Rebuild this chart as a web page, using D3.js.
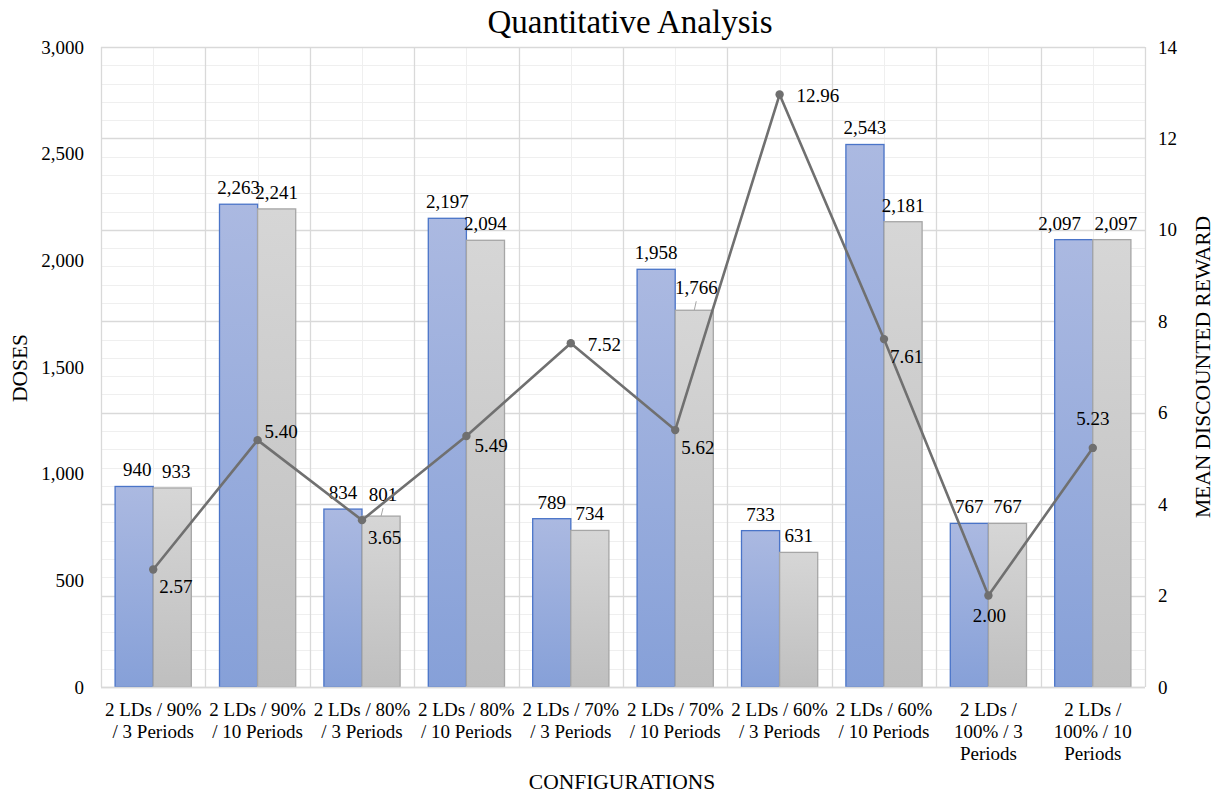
<!DOCTYPE html>
<html>
<head>
<meta charset="utf-8">
<script src="https://cdn.jsdelivr.net/npm/d3@7"></script>
<style>
  html, body { margin: 0; padding: 0; background: #fff; }
  svg text { font-family: "Liberation Serif", "Times New Roman", serif; fill: #000; }
</style>
</head>
<body>
<svg id="chart" width="1217" height="793"></svg>
<script>
// Configurations on the x axis
const categories = [
  "2 LDs / 90% / 3 Periods",
  "2 LDs / 90% / 10 Periods",
  "2 LDs / 80% / 3 Periods",
  "2 LDs / 80% / 10 Periods",
  "2 LDs / 70% / 3 Periods",
  "2 LDs / 70% / 10 Periods",
  "2 LDs / 60% / 3 Periods",
  "2 LDs / 60% / 10 Periods",
  "2 LDs / 100% / 3 Periods",
  "2 LDs / 100% / 10 Periods"
];
// Doses, two bar series
const dosesA = [940, 2263, 834, 2197, 789, 1958, 733, 2543, 767, 2097];
const dosesB = [933, 2241, 801, 2094, 734, 1766, 631, 2181, 767, 2097];
// Mean discounted reward (secondary axis line)
const reward = [2.57, 5.40, 3.65, 5.49, 7.52, 5.62, 12.96, 7.61, 2.00, 5.23];
// Axis ticks
const doseTicks = [0, 500, 1000, 1500, 2000, 2500, 3000];
const rewardTicks = [0, 2, 4, 6, 8, 10, 12, 14];

// Where each reward label sits relative to its marker
const rewardLabelSide = ["belowRight", "rightUp", "belowRight", "rightDown", "right",
                         "belowRight", "right", "belowRight", "below", "above"];

const W = 1217, H = 793;
const plot = { left: 101, right: 1145, top: 47, bottom: 687 };
const svg = d3.select("#chart");

svg.append("rect").attr("width", W).attr("height", H).attr("fill", "#fff");

const defs = svg.append("defs");
const gA = defs.append("linearGradient").attr("id", "gradA").attr("x1", 0).attr("y1", 0).attr("x2", 0).attr("y2", 1);
gA.append("stop").attr("offset", "0%").attr("stop-color", "#abb9e1");
gA.append("stop").attr("offset", "100%").attr("stop-color", "#86a0d8");
const gB = defs.append("linearGradient").attr("id", "gradB").attr("x1", 0).attr("y1", 0).attr("x2", 0).attr("y2", 1);
gB.append("stop").attr("offset", "0%").attr("stop-color", "#d6d6d6");
gB.append("stop").attr("offset", "100%").attr("stop-color", "#bfbfbf");

const x = d3.scaleBand().domain(categories).range([plot.left, plot.right]);
const y = d3.scaleLinear().domain([0, 3000]).range([plot.bottom, plot.top]);
const y2 = d3.scaleLinear().domain([0, 14]).range([plot.bottom, plot.top]);

const barW = x.bandwidth() * 0.365;

// Gridlines: horizontal ones follow the secondary axis (major every 2, minor every 0.4)
const grid = svg.append("g");
const minorH = d3.range(0, 14.0001, 0.4).filter(v => Math.abs(v / 2 - Math.round(v / 2)) > 1e-6);
grid.selectAll(".hmin").data(minorH).join("line")
  .attr("x1", plot.left).attr("x2", plot.right)
  .attr("y1", d => Math.round(y2(d)) + 0.5).attr("y2", d => Math.round(y2(d)) + 0.5)
  .attr("stroke", "#efefef").attr("stroke-width", 1);
grid.selectAll(".vmin").data(categories).join("line")
  .attr("x1", d => Math.round(x(d) + x.bandwidth() / 2) + 0.5)
  .attr("x2", d => Math.round(x(d) + x.bandwidth() / 2) + 0.5)
  .attr("y1", plot.top).attr("y2", plot.bottom)
  .attr("stroke", "#efefef").attr("stroke-width", 1);
grid.selectAll(".hmaj").data(rewardTicks).join("line")
  .attr("x1", plot.left).attr("x2", plot.right)
  .attr("y1", d => Math.round(y2(d)) + 0.5).attr("y2", d => Math.round(y2(d)) + 0.5)
  .attr("stroke", "#d9d9d9").attr("stroke-width", 1.3);
const bounds = categories.map(c => x(c)).concat([plot.right]);
grid.selectAll(".vmaj").data(bounds).join("line")
  .attr("x1", d => Math.round(d) + 0.5).attr("x2", d => Math.round(d) + 0.5)
  .attr("y1", plot.top).attr("y2", plot.bottom)
  .attr("stroke", "#d9d9d9").attr("stroke-width", 1.3);

// Bars
const bars = svg.append("g");
bars.selectAll(".barA").data(dosesA).join("rect")
  .attr("x", (d, i) => x(categories[i]) + x.bandwidth() / 2 - barW)
  .attr("y", d => y(d))
  .attr("width", barW)
  .attr("height", d => plot.bottom - y(d))
  .attr("fill", "url(#gradA)")
  .attr("stroke", "#4a74c8").attr("stroke-width", 1.3);
bars.selectAll(".barB").data(dosesB).join("rect")
  .attr("x", (d, i) => x(categories[i]) + x.bandwidth() / 2)
  .attr("y", d => y(d))
  .attr("width", barW)
  .attr("height", d => plot.bottom - y(d))
  .attr("fill", "url(#gradB)")
  .attr("stroke", "#a6a6a6").attr("stroke-width", 1.3);

// Axis baseline
svg.append("line").attr("x1", plot.left).attr("x2", plot.right)
  .attr("y1", plot.bottom + 0.5).attr("y2", plot.bottom + 0.5)
  .attr("stroke", "#d9d9d9").attr("stroke-width", 1.5);

const fmt = d3.format(",");
const fs = 19;

// Bar value labels; a few are nudged sideways or lifted (with a short leader) to stay clear
const shiftA = { 0: 3, 9: -14 };
const shiftB = { 0: 4, 9: 4 };
const liftB = { 2: 5, 5: 6 };
const lblA = svg.append("g");
lblA.selectAll("text").data(dosesA).join("text")
  .attr("x", (d, i) => x(categories[i]) + x.bandwidth() / 2 - barW / 2 + (shiftA[i] || 0))
  .attr("y", d => y(d) - 10)
  .attr("text-anchor", "middle").attr("font-size", fs)
  .text(d => fmt(d));
const lblB = svg.append("g");
lblB.selectAll("text").data(dosesB).join("text")
  .attr("x", (d, i) => x(categories[i]) + x.bandwidth() / 2 + barW / 2 + (shiftB[i] || 0) + (liftB[i] ? 2 : 0))
  .attr("y", (d, i) => y(d) - 10 - (liftB[i] || 0))
  .attr("text-anchor", "middle").attr("font-size", fs)
  .text(d => fmt(d));
lblB.selectAll("line").data(dosesB.map((d, i) => [d, i]).filter(p => liftB[p[1]])).join("line")
  .attr("x1", p => x(categories[p[1]]) + x.bandwidth() / 2 + barW / 2 + 2)
  .attr("x2", p => x(categories[p[1]]) + x.bandwidth() / 2 + barW / 2)
  .attr("y1", p => y(p[0]) - liftB[p[1]] - 3)
  .attr("y2", p => y(p[0]))
  .attr("stroke", "#a6a6a6").attr("stroke-width", 1);

// Reward line on the secondary axis
const cx = i => x(categories[i]) + x.bandwidth() / 2;
const line = d3.line().x((d, i) => cx(i)).y(d => y2(d));
svg.append("path").datum(reward)
  .attr("d", line)
  .attr("fill", "none").attr("stroke", "#707070").attr("stroke-width", 2.6)
  .attr("stroke-linejoin", "round");
svg.append("g").selectAll("circle").data(reward).join("circle")
  .attr("cx", (d, i) => cx(i)).attr("cy", d => y2(d)).attr("r", 4.2)
  .attr("fill", "#6f6f6f");

const sideOffset = {
  right:      { dx: 17, dy: 1,  anchor: "start" },
  rightUp:    { dx: 7, dy: -9,  anchor: "start" },
  rightDown:  { dx: 8, dy: 9,   anchor: "start" },
  belowRight: { dx: 6, dy: 17,  anchor: "start" },
  below:      { dx: 1, dy: 20,  anchor: "middle" },
  above:      { dx: 0, dy: -30, anchor: "middle" }
};
svg.append("g").selectAll("text").data(reward).join("text")
  .attr("x", (d, i) => cx(i) + sideOffset[rewardLabelSide[i]].dx)
  .attr("y", (d, i) => y2(d) + sideOffset[rewardLabelSide[i]].dy)
  .attr("dy", "0.35em")
  .attr("text-anchor", (d, i) => sideOffset[rewardLabelSide[i]].anchor)
  .attr("font-size", fs)
  .text(d => d.toFixed(2));

// Left axis
const axL = svg.append("g").attr("transform", `translate(${plot.left},0)`)
  .call(d3.axisLeft(y).tickValues(doseTicks).tickFormat(fmt).tickSize(0).tickPadding(17));
axL.select(".domain").remove();
axL.selectAll("text").attr("font-size", fs).attr("font-family", "Liberation Serif, serif").attr("fill", "#000");

// Right axis
const axR = svg.append("g").attr("transform", `translate(${plot.right},0)`)
  .call(d3.axisRight(y2).tickValues(rewardTicks).tickFormat(d3.format("d")).tickSize(0).tickPadding(13));
axR.select(".domain").remove();
axR.selectAll("text").attr("font-size", fs).attr("font-family", "Liberation Serif, serif").attr("fill", "#000");

// Category labels, word-wrapped to the band width
const axB = svg.append("g");
categories.forEach(c => {
  const t = axB.append("text")
    .attr("x", x(c) + x.bandwidth() / 2)
    .attr("y", plot.bottom + 29)
    .attr("text-anchor", "middle").attr("font-size", fs);
  const words = c.split(" ");
  let lines = [], cur = [];
  const probe = t.append("tspan");
  words.forEach(w => {
    const attempt = cur.concat([w]).join(" ");
    probe.text(attempt);
    if (probe.node().getComputedTextLength() > x.bandwidth() - 3 && cur.length) {
      lines.push(cur.join(" "));
      cur = [w];
    } else {
      cur.push(w);
    }
  });
  lines.push(cur.join(" "));
  probe.remove();
  lines.forEach((l, k) => {
    t.append("tspan").attr("x", x(c) + x.bandwidth() / 2)
      .attr("dy", k === 0 ? 0 : 22).text(l);
  });
});

// Titles
const titleFs = 21.5;
svg.append("text").attr("x", 630).attr("y", 33)
  .attr("text-anchor", "middle").attr("font-size", 33)
  .text("Quantitative Analysis");
svg.append("text").attr("transform", "translate(27,368) rotate(-90)")
  .attr("text-anchor", "middle").attr("font-size", titleFs)
  .text("DOSES");
svg.append("text").attr("transform", "translate(1210,367) rotate(-90)")
  .attr("text-anchor", "middle").attr("font-size", titleFs)
  .text("MEAN DISCOUNTED REWARD");
svg.append("text").attr("x", 622).attr("y", 789)
  .attr("text-anchor", "middle").attr("font-size", titleFs)
  .text("CONFIGURATIONS");
</script>
</body>
</html>
